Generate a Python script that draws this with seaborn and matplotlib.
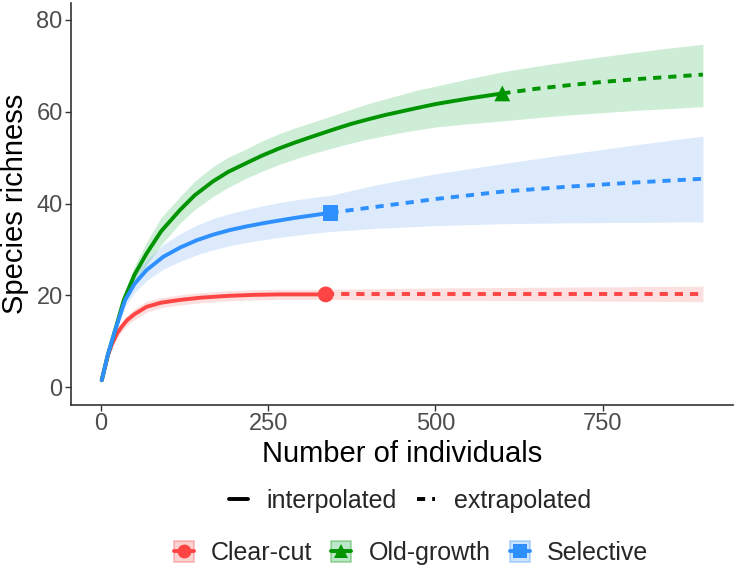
import numpy as np
import pandas as pd
import seaborn as sns
import matplotlib
matplotlib.use("Agg")
import matplotlib.pyplot as plt
from matplotlib.lines import Line2D
from matplotlib.patches import Patch
from matplotlib.legend_handler import HandlerTuple

# ---------------- data ----------------
sites = ["Clear-cut", "Old-growth", "Selective"]

cc_interp_x = [1, 10, 16, 24, 31, 39, 50, 68, 90, 118, 150, 192, 230, 266, 300, 336]
cc_interp_y = [1.5, 6.8, 9.3, 11.7, 13.2, 14.6, 15.9, 17.5, 18.4, 19.0, 19.5, 19.9, 20.1, 20.2, 20.2, 20.2]
cc_interp_lo = [1.5, 6.3, 8.5, 10.8, 12.2, 13.5, 14.7, 16.3, 17.3, 17.9, 18.4, 18.8, 19.0, 19.1, 19.1, 19.1]
cc_interp_hi = [1.5, 7.3, 10.1, 12.6, 14.2, 15.7, 17.1, 18.7, 19.5, 20.1, 20.6, 21.0, 21.2, 21.3, 21.3, 21.3]
cc_extra_x = [336, 500, 700, 900]
cc_extra_y = [20.2, 20.2, 20.2, 20.2]
cc_extra_lo = [19.1, 18.9, 18.8, 18.6]
cc_extra_hi = [21.3, 21.6, 21.8, 22.0]

og_interp_x = [1, 10, 21, 34, 50, 68, 90, 118, 140, 167, 190, 217, 240, 266, 290, 316, 351,
               375, 398, 425, 450, 475, 501, 550, 600]
og_interp_y = [1.5, 7.0, 12.4, 19.0, 24.5, 29.1, 34.0, 38.6, 41.8, 44.8, 46.9, 48.8, 50.4,
               52.0, 53.3, 54.6, 56.3, 57.4, 58.3, 59.3, 60.1, 60.9, 61.7, 62.9, 64.0]
og_interp_lo = [1.5, 6.6, 11.6, 17.8, 22.6, 26.6, 31.0, 35.7, 38.7, 41.5, 43.5, 45.5, 47.0,
                48.5, 49.7, 50.9, 52.3, 53.2, 54.0, 54.8, 55.5, 56.1, 56.7, 57.4, 58.0]
og_interp_hi = [1.5, 7.4, 13.2, 20.2, 26.4, 31.6, 37.0, 41.5, 44.9, 48.0, 50.1, 51.9, 53.6,
                55.2, 56.5, 57.7, 59.4, 60.6, 61.7, 62.8, 63.8, 64.8, 65.6, 67.2, 68.7]
og_extra_x = [600, 650, 700, 750, 800, 850, 900]
og_extra_y = [64.0, 65.0, 65.8, 66.5, 67.1, 67.6, 68.1]
og_extra_lo = [58.0, 58.7, 59.3, 59.8, 60.3, 60.7, 61.1]
og_extra_hi = [68.7, 69.9, 71.0, 72.0, 73.0, 73.9, 74.7]

se_interp_x = [1, 10, 21, 36, 50, 68, 93, 118, 143, 167, 192, 217, 242, 266, 291, 315, 343]
se_interp_y = [1.5, 7.0, 12.4, 19.0, 22.5, 25.5, 28.4, 30.4, 32.0, 33.2, 34.2, 35.0, 35.7,
               36.3, 36.9, 37.4, 38.0]
se_interp_lo = [1.5, 6.6, 11.6, 17.6, 20.6, 23.2, 25.7, 27.4, 28.8, 29.9, 30.8, 31.5, 32.1,
                32.6, 33.1, 33.5, 33.9]
se_interp_hi = [1.5, 7.4, 13.2, 20.4, 24.4, 27.8, 31.1, 33.4, 35.3, 36.7, 37.8, 38.7, 39.5,
                40.2, 40.8, 41.3, 41.8]
se_extra_x = [343, 412, 501, 600, 700, 800, 900]
se_extra_y = [38.0, 39.3, 41.0, 42.6, 43.7, 44.6, 45.4]
se_extra_lo = [33.9, 34.6, 35.2, 35.6, 35.8, 35.9, 36.0]
se_extra_hi = [41.8, 44.1, 46.5, 48.7, 50.8, 52.8, 54.7]

ref_x = [336, 600, 343]
ref_y = [20.2, 64.0, 38.0]

x_ticks = [0, 250, 500, 750]
y_ticks = [0, 20, 40, 60, 80]

# ---------------- build table ----------------
rows = []
series = {
    "Clear-cut": [(cc_interp_x, cc_interp_y, cc_interp_lo, cc_interp_hi, "interpolated"),
                  (cc_extra_x, cc_extra_y, cc_extra_lo, cc_extra_hi, "extrapolated")],
    "Old-growth": [(og_interp_x, og_interp_y, og_interp_lo, og_interp_hi, "interpolated"),
                   (og_extra_x, og_extra_y, og_extra_lo, og_extra_hi, "extrapolated")],
    "Selective": [(se_interp_x, se_interp_y, se_interp_lo, se_interp_hi, "interpolated"),
                  (se_extra_x, se_extra_y, se_extra_lo, se_extra_hi, "extrapolated")],
}
for site, segs in series.items():
    for xs, ys, lo, hi, meth in segs:
        for a, b, c, d in zip(xs, ys, lo, hi):
            rows.append(dict(site=site, method=meth, m=a, qD=b, lo=c, hi=d))
df = pd.DataFrame(rows)
ref = pd.DataFrame(dict(site=sites, m=ref_x, qD=ref_y))

line_cols = {"Clear-cut": "#FF4444", "Old-growth": "#009400", "Selective": "#2E8FFF"}
band_cols = {"Clear-cut": "#F78383", "Old-growth": "#3FBB63", "Selective": "#77AFF7"}
markers = {"Clear-cut": "o", "Old-growth": "^", "Selective": "s"}

sns.set_theme(style="white")
plt.rcParams["font.family"] = ["Liberation Sans", "DejaVu Sans"]

fig = plt.figure(figsize=(7.42, 5.8), dpi=100)
ax = fig.add_axes([71 / 742, 1 - 405 / 580, (733 - 71) / 742, (405 - 3) / 580])

# bands
for site in sites:
    sub = df[df.site == site].drop_duplicates("m").sort_values("m")
    ax.fill_between(sub.m, sub.lo, sub.hi, color=band_cols[site], alpha=0.25,
                    linewidth=0, zorder=1)

sns.lineplot(data=df, x="m", y="qD", hue="site", style="method",
             hue_order=sites, palette=line_cols,
             style_order=["interpolated", "extrapolated"],
             dashes={"interpolated": "", "extrapolated": (2.1, 1.8)},
             linewidth=2.8, errorbar=None, sort=True, legend=False, ax=ax, zorder=3)
sns.scatterplot(data=ref, x="m", y="qD", hue="site", style="site",
                hue_order=sites, palette=line_cols, markers=markers,
                s=130, linewidth=0, legend=False, ax=ax, zorder=4)

ax.set_xlim(-45, 945)
ax.set_ylim(-3.9, 83.7)
ax.set_xticks(x_ticks)
ax.set_yticks(y_ticks)
ax.tick_params(axis="both", labelsize=17, labelcolor="#4D4D4D", length=4,
               width=1, color="#333333", direction="out", bottom=True, left=True, pad=2)
for s in ["top", "right"]:
    ax.spines[s].set_visible(False)
for s in ["left", "bottom"]:
    ax.spines[s].set_color("#333333")
    ax.spines[s].set_linewidth(1.2)
ax.set_xlabel("Number of individuals", fontsize=21, color="black", labelpad=3)
ax.set_ylabel("Species richness", fontsize=21, color="black", labelpad=5)

# legends
h1 = [Line2D([], [], color="black", lw=2.8),
      Line2D([], [], color="black", lw=2.8, dashes=(2.1, 1.8))]
leg1 = fig.legend(h1, ["interpolated", "extrapolated"], loc="center",
                  bbox_to_anchor=(410 / 742, 1 - 501 / 580), ncol=2, frameon=False,
                  fontsize=18, handlelength=0.75, handletextpad=0.75, columnspacing=0.8)

h2 = []
for site in sites:
    p = Patch(facecolor=band_cols[site], edgecolor=line_cols[site], alpha=0.35, linewidth=1.2)
    ln = Line2D([], [], color=line_cols[site], lw=2.8, marker=markers[site],
                markersize=10, markeredgewidth=0)
    h2.append((p, ln))
leg2 = fig.legend(h2, sites, loc="center", bbox_to_anchor=(411 / 742, 1 - 553 / 580),
                  ncol=3, frameon=False, fontsize=18, handlelength=0.8, handleheight=0.9,
                  handletextpad=0.7, columnspacing=0.75,
                  handler_map={tuple: HandlerTuple(ndivide=1)})

fig.savefig("out.png", dpi=100)
